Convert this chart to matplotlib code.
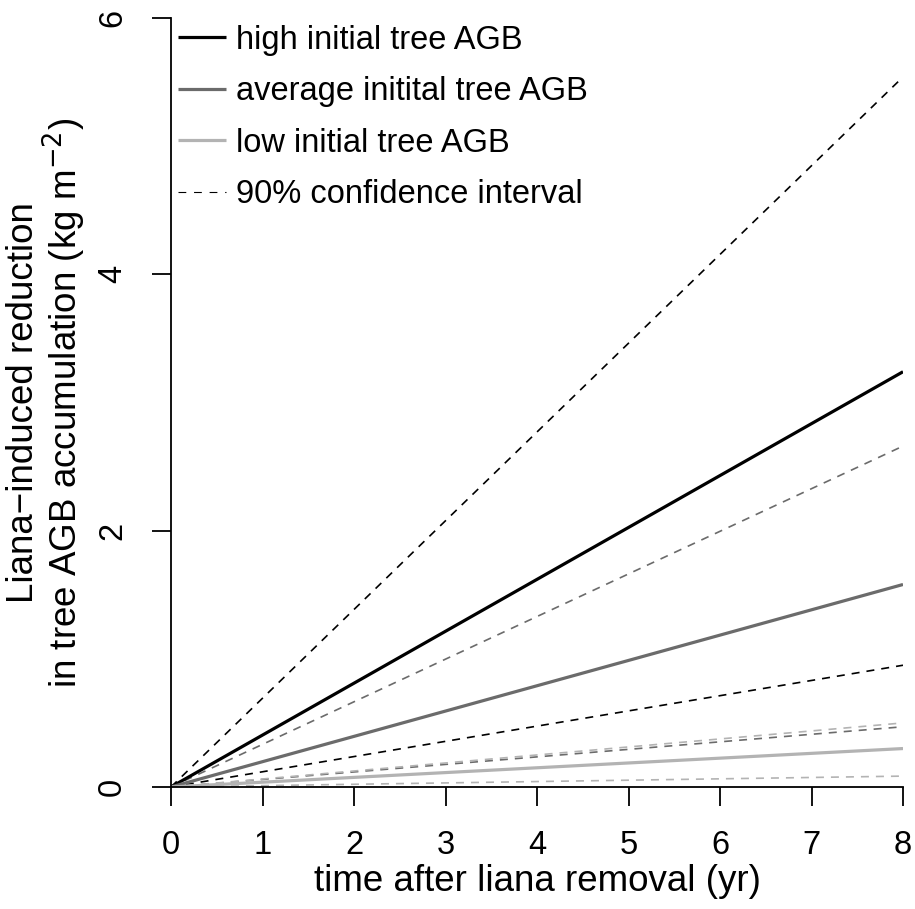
import numpy as np
import matplotlib.pyplot as plt

plt.rcParams['font.family'] = ['Liberation Sans', 'DejaVu Sans']

# time after liana removal (yr)
t = [0, 8]

# predicted reduction (kg m-2), straight lines from origin
high = [0, 3.24]
high_lo = [0, 0.95]
high_hi = [0, 5.54]

avg = [0, 1.58]
avg_lo = [0, 0.47]
avg_hi = [0, 2.66]

low = [0, 0.30]
low_lo = [0, 0.085]
low_hi = [0, 0.50]

c_high = "black"
c_avg = "#6b6b6b"
c_low = "#b3b3b3"

fs_tick = 23.5
fs_lab = 26.5
fs_leg = 23.5

fig = plt.figure(figsize=(9.15, 9.09), dpi=100)
ax = fig.add_axes([171/915, 1-787/909, (903-171)/915, (787-18)/909])

dash = (4.8, 4.2)
lw_d = 1.2
ax.plot(t, high_hi, color=c_high, lw=lw_d, dashes=dash)
ax.plot(t, high_lo, color=c_high, lw=lw_d, dashes=dash)
ax.plot(t, avg_hi, color=c_avg, lw=lw_d, dashes=dash)
ax.plot(t, avg_lo, color=c_avg, lw=lw_d, dashes=dash)
ax.plot(t, low_hi, color=c_low, lw=lw_d, dashes=dash)
ax.plot(t, low_lo, color=c_low, lw=lw_d, dashes=dash)

l1, = ax.plot(t, high, color=c_high, lw=2.3, solid_capstyle="butt")
l2, = ax.plot(t, avg, color=c_avg, lw=2.3, solid_capstyle="butt")
l3, = ax.plot(t, low, color=c_low, lw=2.3, solid_capstyle="butt")
l4, = ax.plot([], [], color="black", lw=0.8, dashes=(7, 7))

ax.set_xlim(0, 8)
ax.set_ylim(0, 6)
ax.spines["top"].set_visible(False)
ax.spines["right"].set_visible(False)
ax.spines["left"].set_linewidth(1.3)
ax.spines["bottom"].set_linewidth(1.3)
ax.set_xticks(range(0, 9))
ax.set_yticks([0, 2, 4, 6])
ax.tick_params(axis="both", direction="out", length=14, width=1.3, labelsize=fs_tick)
ax.tick_params(axis="x", pad=17)
ax.tick_params(axis="y", pad=17)
for lab in ax.get_yticklabels():
    lab.set_rotation(90)
    lab.set_va("center")

ax.set_xlabel("time after liana removal (yr)", fontsize=fs_lab)
ax.set_ylabel("Liana\u2212induced reduction\nin tree AGB accumulation (kg m$^{-2}$)",
              fontsize=fs_lab, linespacing=1.0)
ax.xaxis.set_label_coords(0.5, -0.1)
ax.yaxis.set_label_coords(-0.113, 0.5)

ax.legend([l1, l2, l3, l4],
          ["high initial tree AGB", "average initital tree AGB",
           "low initial tree AGB", "90% confidence interval"],
          loc="upper left", bbox_to_anchor=(0.0, 1.0), frameon=False,
          fontsize=fs_leg, handlelength=1.5, handletextpad=0.3,
          labelspacing=0.63, borderaxespad=0.1, borderpad=0.1)

fig.savefig("out.png", dpi=100)
